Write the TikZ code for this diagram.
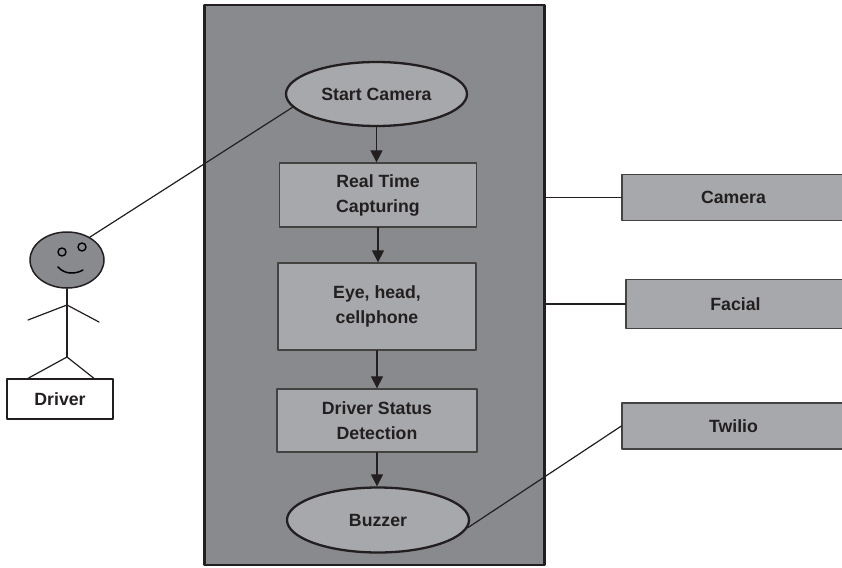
\documentclass[tikz,border=0pt]{standalone}
\usepackage{fontspec}
\setmainfont{Liberation Sans}
\usetikzlibrary{shapes.geometric,arrows.meta}
\definecolor{panel}{HTML}{898A8D}
\definecolor{boxgray}{HTML}{A7A8AB}
\definecolor{ink}{HTML}{231F20}
\tikzset{
	stepbox/.style={draw=ink!85, line width=1.3pt, fill=boxgray, align=center, inner sep=0pt},
	oval/.style={ellipse, draw=ink, line width=2.3pt, fill=boxgray, inner sep=0pt},
	sidebox/.style={draw=ink!85, line width=1.3pt, fill=boxgray, inner sep=0pt},
	link/.style={draw=ink, line width=1.2pt}
}
\begin{document}
\begin{tikzpicture}[x=1pt,y=-1pt,>={Triangle[length=12pt,width=12pt]}, font=\fontsize{17.7}{25}\selectfont\bfseries, text=ink, line join=round, line cap=round]
			\def\xmin{0} \def\xmax{842}
			\def\ymin{0} \def\ymax{567}
			\clip (\xmin,\ymin) rectangle (\xmax,\ymax);
			\fill[white] (\xmin,\ymin) rectangle (\xmax,\ymax);
			% system panel
			\node[draw=ink, line width=2.5pt, fill=panel, inner sep=0pt, outer sep=0pt, minimum width=340pt, minimum height=560pt] (panel) at (374.5,285) {};
			\node[oval, minimum width=181pt, minimum height=64pt] (start) at (376.5,94) {Start Camera};
			\node[stepbox, minimum width=197pt, minimum height=64pt] (capture) at (378,195) {Real Time\\Capturing};
			\node[stepbox, minimum width=198pt, minimum height=87pt] (detect) at (377,306.5) {Eye, head,\\cellphone};
			\node[stepbox, minimum width=200pt, minimum height=63pt] (status) at (377,420.5) {Driver Status\\Detection};
			\node[oval, minimum width=182pt, minimum height=65pt] (buzzer) at (378,520) {Buzzer};
			\foreach \a/\b in {start/capture, capture/detect, detect/status, status/buzzer}
			\draw[link,->] (\a.south) -- (\a.south |- \b.north);
			% services
			\node[sidebox, minimum width=223pt, minimum height=46pt] (camera) at (733.5,197.5) {Camera};
			\node[sidebox, minimum width=219pt, minimum height=49pt] (facial) at (735.5,304) {Facial};
			\node[sidebox, minimum width=223pt, minimum height=46pt] (twilio) at (733.5,426) {Twilio};
			\draw[link] (panel.east |- camera) -- (camera.west);
			\draw[link] (panel.east |- facial) -- (facial.west);
			\draw[link] (buzzer.-5) -- (twilio.west);
			% driver
			\node[ellipse, draw=ink, line width=1.5pt, fill=panel, minimum width=74pt, minimum height=56pt] (head) at (67,260) {};
			\draw[line width=1.4pt, fill=panel] (62,252) circle (4) (82,247) circle (4);
			\draw[line width=1.5pt] (58,267) .. controls (65,275) and (76,274) .. (83,270);
			\coordinate (neck) at (67,305);
			\coordinate (hip) at (67,357);
			\draw[link] (head.south) -- (hip);
			\draw[link] (28,320) -- (neck) -- (99,322);
			\node[draw=ink, line width=1.3pt, fill=white, minimum width=106pt, minimum height=40pt] (driver) at (60,399) {Driver};
			\draw[link] (driver.north -| 28,0) -- (hip) -- (driver.north -| 94,0);
			\draw[link] (head.45) -- (start.189);
		\end{tikzpicture}
\end{document}
